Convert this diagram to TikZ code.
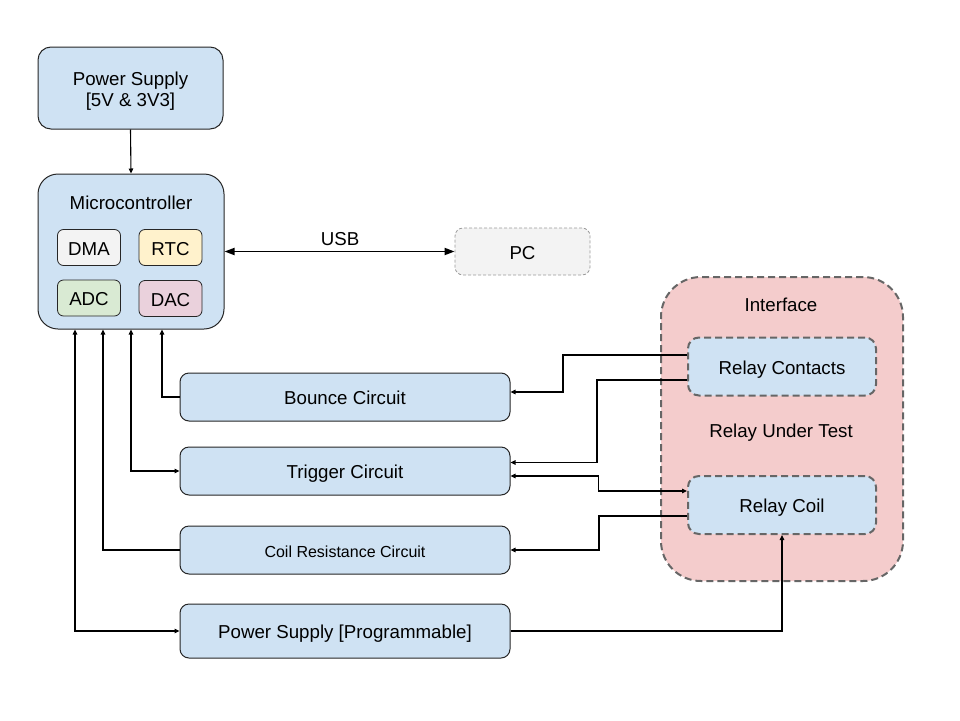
\documentclass[tikz,border=0pt]{standalone}
\usepackage{fontspec}
\setmainfont{Liberation Sans}
\usetikzlibrary{arrows.meta}
\definecolor{boxblue}{HTML}{CFE2F3}
\definecolor{boxgrey}{HTML}{F3F3F3}
\definecolor{boxyellow}{HTML}{FFF2CC}
\definecolor{boxgreen}{HTML}{D9EAD3}
\definecolor{boxpink}{HTML}{EAD1DC}
\definecolor{boxred}{HTML}{F4CCCC}
\definecolor{dashgrey}{HTML}{666666}
\begin{document}
\begin{tikzpicture}[x=1pt,y=-1pt,>={Triangle[length=5pt,width=4.5pt]},
    every node/.style={font=\fontsize{18.7}{21.5}\selectfont,align=center,inner sep=0pt},
    oneline/.style={text height=17pt,text depth=2pt},
    block/.style={oneline,draw=black!85,line width=1pt,fill=boxblue,rounded corners=9pt,
      minimum width=330pt,minimum height=48pt},
    subblock/.style={oneline,draw=black!85,line width=0.8pt,rounded corners=6pt,
      minimum width=63pt,minimum height=36pt},
    dashblock/.style={oneline,draw=dashgrey,line width=2pt,dash pattern=on 7pt off 4pt,
      fill=boxblue,rounded corners=11pt,minimum width=188pt,minimum height=58pt},
    conn/.style={line width=1.1pt,black}]
  \useasboundingbox (0,0) rectangle (960,720);

  % controller side
  \node[draw=black!85,line width=1pt,fill=boxblue,rounded corners=13pt,minimum width=185pt,minimum height=82pt] (psu) at (130.5,88) {};
  \node (psutxt) at (130.5,91) {Power Supply\\\relax[5V \& 3V3]};
  \node[draw=black!85,line width=1pt,fill=boxblue,rounded corners=20pt,minimum width=186pt,minimum height=155pt] (mcu) at (131,251.5) {};
  \node[oneline] (mcutxt) at (131,202) {Microcontroller};
  \node[subblock,fill=boxgrey] (dma) at (89,247.5) {DMA};
  \node[subblock,fill=boxyellow] (rtc) at (170.5,247.5) {RTC};
  \node[subblock,fill=boxgreen] (adc) at (89,298) {ADC};
  \node[subblock,fill=boxpink] (dac) at (170.5,298.5) {DAC};

  \node[oneline,draw=black!40,line width=0.8pt,dash pattern=on 3pt off 2pt,fill=boxgrey,rounded corners=8pt,
    minimum width=135pt,minimum height=47pt] (pc) at (522.5,251.5) {PC};
  \node[oneline] (usblbl) at (340,238) {USB};

  % circuits
  \node[block] (bounce) at (345,397) {Bounce Circuit};
  \node[block] (trigger) at (345,471) {Trigger Circuit};
  \node[block,font=\fontsize{16}{19}\selectfont] (coilres) at (345,550) {Coil Resistance Circuit};
  \node[block,minimum height=54pt] (psprog) at (345,631) {Power Supply [Programmable]};

  % relay under test
  \node[draw=dashgrey,line width=2pt,dash pattern=on 7pt off 4pt,fill=boxred,rounded corners=40pt,
    minimum width=242pt,minimum height=304pt] (iface) at (782,429) {};
  \node[oneline] (ifacetxt) at (781,304) {Interface};
  \node[oneline] (ruttxt) at (781,430) {Relay Under Test};
  \node[dashblock] (contacts) at (782,366.5) {Relay Contacts};
  \node[dashblock] (coil) at (782,505) {Relay Coil};

  % connections
  \draw[conn,->] (psu.south) -- (mcu.north);
  \draw[line width=1.8pt,{Triangle[length=10pt,width=7pt]}-{Triangle[length=10pt,width=7pt]}] (mcu.east) -- (pc.west);
  \draw[conn,->] (bounce.west) -| ([xshift=31pt]mcu.south);
  \draw[conn,<->] (mcu.south) |- (trigger.west);
  \draw[conn,->] (coilres.west) -| ([xshift=-28pt]mcu.south);
  \draw[conn,<->] ([xshift=-56pt]mcu.south) |- (psprog.west);

  \draw[conn,->] ([yshift=11.5pt]contacts.west) -- ++(-124,0) |- ([yshift=5pt]bounce.east);
  \draw[conn,->] ([yshift=-13.5pt]contacts.west) -- ++(-90,0) |- ([yshift=8.5pt]trigger.east);
  \draw[conn,<->] ([yshift=-5pt]trigger.east) -- ++(88,0) |- ([yshift=14pt]coil.west);
  \draw[conn,->] ([yshift=-11pt]coil.west) -- ++(-88,0) |- (coilres.east);
  \draw[conn,->] (psprog.east) -| (coil.south);
\end{tikzpicture}
\end{document}
